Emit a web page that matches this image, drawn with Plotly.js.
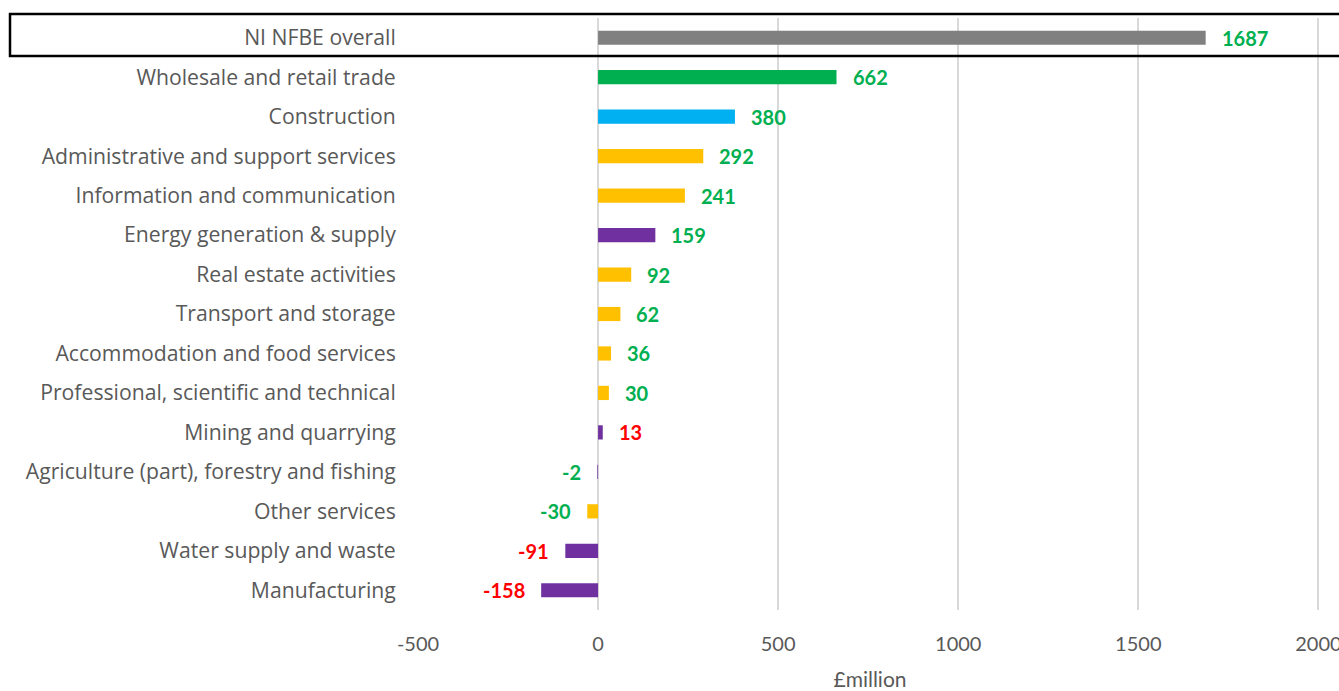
<!DOCTYPE html>
<html><head><meta charset="utf-8">
<script src="https://cdn.plot.ly/plotly-3.0.1.min.js"></script>
<style>html,body{margin:0;padding:0;background:#fff}#chart{width:1339px;height:691px}</style>
</head><body><div id="chart"></div>
<script>
var categories = ["NI NFBE overall","Wholesale and retail trade","Construction","Administrative and support services","Information and communication","Energy generation & supply","Real estate activities","Transport and storage","Accommodation and food services","Professional, scientific and technical","Mining and quarrying","Agriculture (part), forestry and fishing","Other services","Water supply and waste","Manufacturing"];
var values = [1687,662,380,292,241,159,92,62,36,30,13,-2,-30,-91,-158];
var barColors = ["#808080","#00B050","#00B0F0","#FFC000","#FFC000","#7030A0","#FFC000","#FFC000","#FFC000","#FFC000","#7030A0","#7030A0","#FFC000","#7030A0","#7030A0"];
var labelColors = ["#00B050","#00B050","#00B050","#00B050","#00B050","#00B050","#00B050","#00B050","#00B050","#00B050","#FF0000","#00B050","#00B050","#FF0000","#FF0000"];
var xTicks = [-500,0,500,1000,1500,2000];

var FONT = "Lato, 'Open Sans', sans-serif";
var LABELFONT = "'Open Sans', sans-serif";
var trace = {
  type:'bar', orientation:'h', x:values, y:categories,
  marker:{color:barColors}, width:0.36, hoverinfo:'x+y'
};
var annotations = values.map(function(v,i){
  return {x:v, y:categories[i], xref:'x', yref:'y', text:String(v), showarrow:false,
    xanchor: v>=0?'left':'right', xshift: v>=0?14:-14,
    font:{family:FONT, size:20, color:labelColors[i], weight:'bold'}};
});
var plotW = 1339-418-17;
var layout = {
  width:1339, height:691,
  margin:{l:418, r:17, t:18, b:81},
  paper_bgcolor:'#fff', plot_bgcolor:'#fff',
  showlegend:false,
  font:{family:FONT, size:20, color:'#595959'},
  xaxis:{range:[-500,2010], tickvals:xTicks, ticktext:xTicks.map(String), ticklabeloverflow:'allow',
    showgrid:true, gridcolor:'#D9D9D9', gridwidth:2, zeroline:true, zerolinecolor:'#D9D9D9', zerolinewidth:2,
    showline:false, ticks:'outside', ticklen:16, tickcolor:'rgba(0,0,0,0)', tickfont:{family:FONT,size:20,color:'#595959'},
    title:{text:'£million', font:{family:FONT,size:21,color:'#595959'}, standoff:24}},
  yaxis:{autorange:'reversed', type:'category', showgrid:false, zeroline:false, showline:false,
    ticks:'outside', ticklen:17, tickcolor:'rgba(0,0,0,0)', tickfont:{family:LABELFONT,size:21.2,color:'#595959'}},
  annotations:annotations,
  shapes:[{type:'rect', xref:'paper', yref:'paper',
    x0:(10-418)/plotW, x1:(1345-418)/plotW, y0:(610-56)/592, y1:(610-14)/592,
    line:{color:'#000', width:2.5}, fillcolor:'rgba(0,0,0,0)', layer:'above'}]
};
Plotly.newPlot('chart',[trace],layout,{displayModeBar:false, staticPlot:true});
</script></body></html>
